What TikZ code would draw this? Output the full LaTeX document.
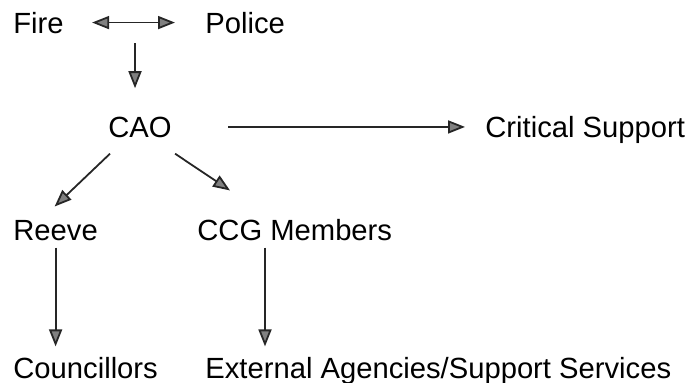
\documentclass[tikz,border=0pt]{standalone}
\usepackage{fontspec}
\setmainfont{Liberation Sans}
\usepackage{tikz}
\usetikzlibrary{positioning, arrows.meta}

\begin{document}
\begin{tikzpicture}[x=0.5pt, y=-0.5pt,
    lbl/.style={inner sep=0pt, anchor=base west, font=\fontsize{14.6pt}{17pt}\selectfont},
    arr/.style={draw=black!85, line width=0.9pt,
      -{Triangle[length=8.5pt, width=6.5pt, fill=gray]}},
    arrs/.style={arr, {Triangle[length=8.5pt, width=6.5pt, fill=gray]}-{Triangle[length=8.5pt, width=6.5pt, fill=gray]}}]
    \useasboundingbox (0,0) rectangle (695,382);

    % Nodes
    \node[lbl] (fire) at (13,33) {Fire};
    \node[lbl] (police) at (205,33) {Police};
    \node[lbl] (cao) at (108,137) {CAO};
    \node[lbl] (critical) at (485,137) {Critical Support};
    \node[lbl] (reeve) at (13,240) {Reeve};
    \node[lbl] (ccg) at (197,240) {CCG Members};
    \node[lbl] (councillors) at (13,378) {Councillors};
    \node[lbl] (external) at (205,378) {External Agencies/Support Services};
    \coordinate (fp) at (135,23);

    % Arrows
    \draw[arrs, shorten <=14pt, shorten >=15pt] (fire.east) -- (fire.east -| police.west);
    \draw[arr, shorten <=10pt, shorten >=14pt] (fp) -- (fp |- cao.north);
    \draw[arr, shorten <=28pt, shorten >=10pt] (cao.east) -- (cao.east -| critical.west);
    \draw[arr] ([shift={(2,16)}]cao.south west) -- ([shift={(-1,-13)}]reeve.north);
    \draw[arr] ([shift={(3,16)}]cao.south east) -- ([shift={(33,-28)}]ccg.north west);
    \draw[arr, shorten <=3.5pt, shorten >=5pt] (reeve.south) -- (reeve.south |- councillors.north);
    \draw[arr, shorten >=5pt] ([shift={(68,7)}]ccg.south west) coordinate (ccgs) -- (ccgs |- external.north);
\end{tikzpicture}
\end{document}
